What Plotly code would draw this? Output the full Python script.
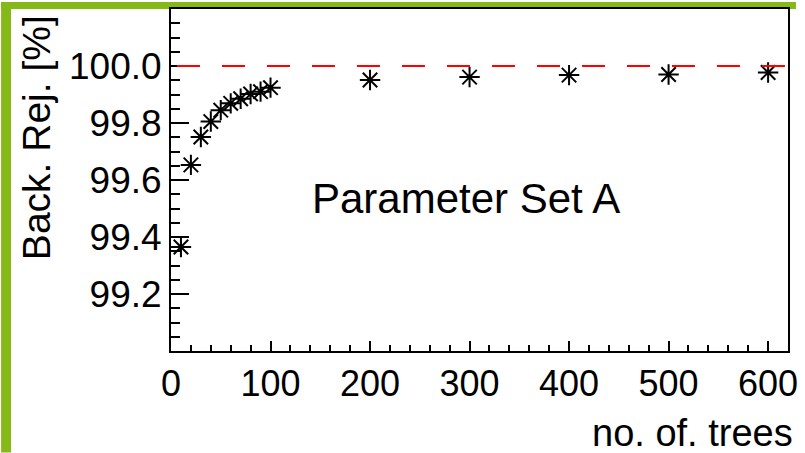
import plotly.graph_objects as go

# Number of trees and background rejection (%)
n_trees = [10, 20, 30, 40, 50, 60, 70, 80, 90, 100, 200, 300, 400, 500, 600]
back_rej = [99.365, 99.653, 99.751, 99.805, 99.845, 99.869, 99.885, 99.902,
            99.910, 99.924, 99.951, 99.961, 99.968, 99.970, 99.977]

y_ticks = [99.2, 99.4, 99.6, 99.8, 100.0]
y_tick_text = ["99.2", "99.4", "99.6", "99.8", "100.0"]
x_ticks = [0, 100, 200, 300, 400, 500, 600]

W, H = 805, 453
L, R, T, B = 171, 13, 7, 102
PW, PH = W - L - R, H - T - B

FONT = "Liberation Sans, Arial, sans-serif"
GREEN = "#85B918"


def px(x):
    return (x - L) / PW


def py(y):
    return 1 - (y - T) / PH


fig = go.Figure()

fig.add_trace(go.Scatter(
    x=n_trees, y=back_rej, mode="markers",
    marker=dict(symbol="asterisk-open", size=17, color="black",
                line=dict(color="black", width=2)),
    showlegend=False, cliponaxis=False,
))

shapes = [
    # reference line at 100 %
    dict(type="line", xref="x", yref="y", x0=6, x1=620, y0=100.0, y1=100.0,
         line=dict(color="#FF0000", width=2, dash="23px,22px"), layer="above"),
    # green frame strips
    dict(type="rect", xref="paper", yref="paper", x0=px(0), x1=px(10),
         y0=py(H), y1=py(0), fillcolor=GREEN, line=dict(width=0), layer="below"),
    dict(type="rect", xref="paper", yref="paper", x0=px(0), x1=px(800),
         y0=py(7), y1=py(0), fillcolor=GREEN, line=dict(width=0), layer="below"),
]

annotations = [
    dict(text="Parameter Set A", xref="paper", yref="paper",
         x=px(468), y=py(198), xanchor="center", yanchor="middle",
         showarrow=False, font=dict(family=FONT, size=42, color="black")),
    dict(text="no. of. trees", xref="paper", yref="paper",
         x=px(799), y=py(433), xanchor="right", yanchor="middle",
         showarrow=False, font=dict(family=FONT, size=38, color="black")),
    dict(text="Back. Rej. [%]", xref="paper", yref="paper",
         x=px(35), y=py(136), xanchor="center", yanchor="middle",
         textangle=-90, showarrow=False,
         font=dict(family=FONT, size=39, color="black")),
]

fig.update_layout(
    width=W, height=H,
    margin=dict(l=L, r=R, t=T, b=B, pad=0),
    paper_bgcolor="white", plot_bgcolor="white",
    shapes=shapes, annotations=annotations,
    xaxis=dict(
        range=[0, 620], tickvals=x_ticks, ticks="inside", ticklen=10,
        tickwidth=2, tickcolor="black", showline=True, linewidth=2,
        linecolor="black", mirror=True, showgrid=False, zeroline=False,
        tickfont=dict(family=FONT, size=36, color="black"),
        minor=dict(dtick=20, tick0=0, ticks="inside", ticklen=6,
                   tickwidth=2, tickcolor="black", showgrid=False),
    ),
    yaxis=dict(
        range=[99.0, 100.2], tickvals=y_ticks, ticktext=y_tick_text,
        ticks="inside", ticklen=18, tickwidth=2, tickcolor="black",
        showline=True, linewidth=2, linecolor="black", mirror=True,
        showgrid=False, zeroline=False,
        tickfont=dict(family=FONT, size=37, color="black"),
        minor=dict(dtick=0.05, tick0=99.0, ticks="inside", ticklen=9,
                   tickwidth=2, tickcolor="black", showgrid=False),
    ),
)

fig.write_html("out.html")
